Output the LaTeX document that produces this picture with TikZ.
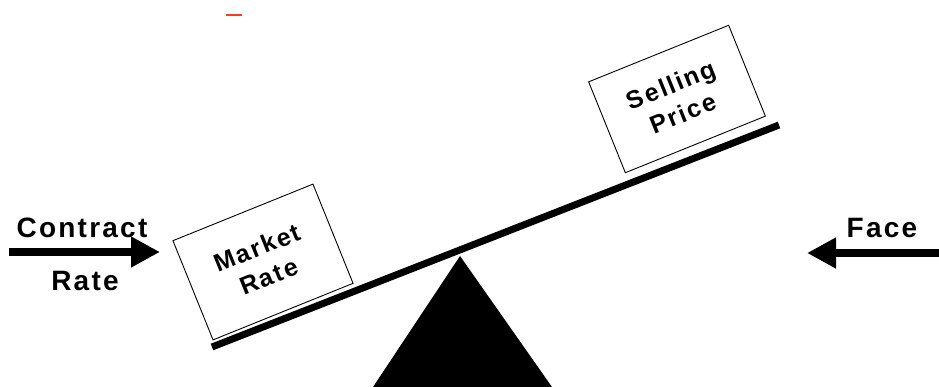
\documentclass[tikz,border=0pt]{standalone}
\usepackage{fontspec}
\setmainfont{Liberation Sans}
\newfontfamily\lblfont[LetterSpace=8]{Liberation Sans Bold}
\newfontfamily\boxfont[LetterSpace=8]{Liberation Sans Bold}
\usetikzlibrary{arrows.meta}
\definecolor{dashred}{HTML}{FF3A1A}
\tikzset{
  lbl/.style={font=\lblfont\fontsize{28}{32}\selectfont, inner sep=0pt, anchor=base},
  weightbox/.style={draw=black, line width=0.9pt, rotate=22, minimum width=151pt, inner sep=0pt,
     align=center, font=\boxfont\fontsize{25}{31}\selectfont},
  bigarrow/.style={line width=8pt, -{Triangle[length=29pt,width=29pt]}},
  beam/.style={line width=7pt},
}
\begin{document}
\begin{tikzpicture}[x=1pt,y=-1pt]
\useasboundingbox (0,0) rectangle (939,387);
% red mark
\coordinate (r1) at (226,15);
\coordinate (r2) at (242,15);
\draw[dashred, line width=2.5pt] (r1) -- (r2);
% fulcrum
\coordinate (apex) at (460,256);
\coordinate (bl) at (373,387);
\coordinate (br) at (552,387);
\fill[black] (apex) -- (bl) -- (br) -- cycle;
% beam
\coordinate (beamL) at (212,347);
\coordinate (beamR) at (779,125);
\draw[beam] (beamL) -- (beamR);
% boxes
\node[weightbox, minimum height=107pt] (market) at (263,262) {Market\\Rate};
\node[weightbox, minimum height=98pt] (selling) at (677,99) {Selling\\Price};
% left label and arrow
\node[lbl] (contract) at (82,238) {Contract};
\node[lbl] (rate) at (85,290) {Rate};
\coordinate (la1) at (9,252);
\coordinate (la2) at (160,252);
\draw[bigarrow] (la1) -- (la2);
% right label and arrow
\node[lbl] (face) at (882,238) {Face};
\coordinate (ra1) at (939,253);
\coordinate (ra2) at (807,253);
\draw[bigarrow] (ra1) -- (ra2);
\end{tikzpicture}
\end{document}
